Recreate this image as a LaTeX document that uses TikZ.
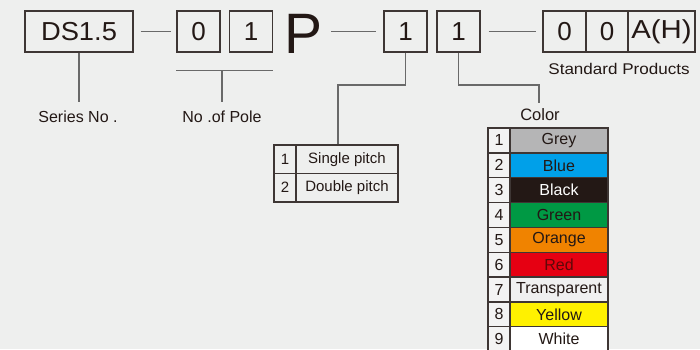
\documentclass[tikz,border=0pt]{standalone}
\usepackage{fontspec}
\setmainfont{Liberation Sans}
\usetikzlibrary{calc}
\definecolor{bg}{RGB}{238,239,238}
\definecolor{ink}{RGB}{35,24,21}
\definecolor{edge}{RGB}{62,54,52}
\definecolor{conn}{RGB}{105,105,105}
\definecolor{numfill}{RGB}{243,243,243}
\definecolor{cgrey}{RGB}{181,181,182}
\definecolor{cblue}{RGB}{0,160,233}
\definecolor{cblack}{RGB}{35,24,21}
\definecolor{cgreen}{RGB}{0,153,68}
\definecolor{corange}{RGB}{240,131,0}
\definecolor{cred}{RGB}{230,0,18}
\definecolor{ctrans}{RGB}{240,240,240}
\definecolor{cyellow}{RGB}{255,241,0}
\definecolor{cwhite}{RGB}{255,255,255}
\definecolor{redtext}{RGB}{95,8,8}
\newcommand{\fs}[1]{\fontsize{#1}{#1}\selectfont}
\tikzset{
  box/.style={draw=edge, line width=1.3pt, inner sep=0pt, text=ink, font=\fs{26}, minimum height=41pt},
  conn/.style={draw=conn, line width=1.1pt},
  lbl/.style={text=ink, font=\fs{16}, inner sep=0pt},
  pcell/.style={draw=edge, line width=1.2pt, inner sep=0pt, minimum height=28.5pt, text=ink, font=\fs{15}},
  ccell/.style={draw=edge, line width=1.3pt, inner sep=0pt, minimum height=24.85pt, font=\fs{16}},
}
\begin{document}
\begin{tikzpicture}[x=1pt,y=-1pt]
\path[use as bounding box, fill=bg] (0,0) rectangle (700,349);
\clip (0,0) rectangle (700,349);

% top code boxes
\node[box, minimum width=108] (ds) at (79,31.5) {\scalebox{1.05}[1]{DS1.5}};
\node[box, minimum width=43] (p0) at (198.5,31.5) {0};
\node[box, minimum width=43] (p1) at (251,31.5) {1};
\node[text=ink, font=\fs{57}, inner sep=0pt, anchor=base] (P) at (304,53) {P};
\node[box, minimum width=43] (p3) at (405.5,31.5) {1};
\node[box, minimum width=43] (p4) at (458.5,31.5) {1};
\node[box, minimum width=43] (c0) at (564.5,31.5) {0};
\node[box, minimum width=42] (c1) at (607,31.5) {0};
\node[box, minimum width=67] (c2) at (661.5,31.5) {\scalebox{1.13}[1]{A(H)}};

% dashes
\draw[conn, shorten <=7pt, shorten >=5pt] (ds) -- (p0);
\draw[conn] ($(P.east|-p3.west)+(8,0)$) -- ($(p3.west)+(-7,0)$);
\draw[conn, shorten <=8pt, shorten >=6pt] (p4) -- (c0);

% labels
\node[lbl, inner ysep=9pt] (sn) at (78,117) {Series No .};
\node[lbl, inner ysep=9pt] (np) at (222,117) {No .of Pole};
\node[lbl, font=\fs{15.5}] (sp) at (619,69) {\scalebox{1.1}[1]{Standard Products}};
\node[lbl, font=\fs{16.5}, inner ysep=6pt] (col) at (540,115) {Color};

% series connector
\draw[conn] (ds.south) -- (ds.south |- sn.north);

% pole bracket
\coordinate (pl) at ($(p0.south west)+(0,18)$);
\coordinate (pr) at ($(p1.south east)+(0,18)$);
\draw[conn] (pl) -- (pr);
\draw[conn] (np.north |- pl) -- (np.north);

% pitch table
\node[pcell, minimum width=22] (pn1) at (285,159.25) {1};
\node[pcell, minimum width=102] (ps1) at (347,159.25) {Single pitch};
\node[pcell, minimum width=22] (pn2) at (285,187.75) {2};
\node[pcell, minimum width=102] (ps2) at (347,187.75) {Double pitch};

% pitch connector
\coordinate (pj) at (338,85);
\draw[conn] (p3.south) |- (pj) -- (pj |- ps1.north);

% colour connector
\coordinate (cj) at (539,85);
\draw[conn] (p4.south) |- (cj) -- (cj |- col.north);

% colour table
\foreach \i/\nm/\fc/\tc in {1/Grey/cgrey/ink, 2/Blue/cblue/ink, 3/Black/cblack/white,
  4/Green/cgreen/ink, 5/Orange/corange/ink, 6/Red/cred/redtext,
  7/Transparent/ctrans/ink, 8/Yellow/cyellow/ink, 9/White/cwhite/ink}{
  \node[ccell, minimum width=22, fill=numfill, text=ink] (n\i) at (499,{140.43+(\i-1)*24.85}) {\i};
  \node[ccell, minimum width=98, fill=\fc, text=\tc] (k\i) at (559,{140.43+(\i-1)*24.85}) {\nm};
}
\end{tikzpicture}
\end{document}
